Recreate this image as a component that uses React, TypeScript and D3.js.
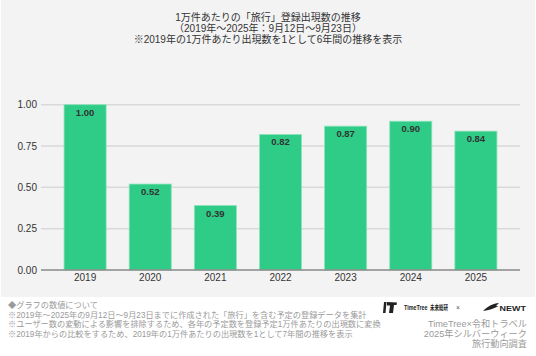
import React from "react";
import * as d3 from "d3";

const years = ["2019", "2020", "2021", "2022", "2023", "2024", "2025"];
const values = [1.0, 0.52, 0.39, 0.82, 0.87, 0.9, 0.84];
const yTicks = [0, 0.25, 0.5, 0.75, 1.0];
const titleLines = [
  "1万件あたりの「旅行」登録出現数の推移",
  "（2019年〜2025年：9月12日〜9月23日）",
  "※2019年の1万件あたり出現数を1として6年間の推移を表示",
];
const notes = [
  "◆グラフの数値について",
  "※2019年〜2025年の9月12日〜9月23日までに作成された「旅行」を含む予定の登録データを集計",
  "※ユーザー数の変動による影響を排除するため、各年の予定数を登録予定1万件あたりの出現数に変換",
  "※2019年からの比較をするため、2019年の1万件あたりの出現数を1として7年間の推移を表示",
];
const credits = ["TimeTree×令和トラベル", "2025年シルバーウィーク", "旅行動向調査"];

const W = 536;
const H = 356;
const FONT = "'Liberation Sans', 'Noto Sans CJK JP', Arial, sans-serif";

export default function App() {
  const x = d3.scaleBand<string>().domain(years).range([41, 520]).paddingInner(0.354).paddingOuter(0.354);
  const y = d3.scaleLinear().domain([0, 1]).range([270, 104.7]);
  const fmt = d3.format(".2f");

  return (
    <svg
      width={W}
      height={H}
      style={{ position: "absolute", left: 0, top: 0, background: "#ffffff" }}
      fontFamily={FONT}
    >
      <rect x={1} y={0} width={534} height={297} fill="#f3f3f3" />
      {titleLines.map((t, i) => (
        <text key={i} x={268} y={21 + i * 10.8} textAnchor="middle" fontSize={10} fill="#333">
          {t}
        </text>
      ))}
      {yTicks.map((t) => (
        <g key={t}>
          {t > 0 && (
            <line x1={41} x2={520} y1={y(t)} y2={y(t)} stroke="#d9d9d9" strokeWidth={1.5} />
          )}
          <text x={37} y={y(t) + 3.5} textAnchor="end" fontSize={10} fill="#333">
            {fmt(t)}
          </text>
        </g>
      ))}
      {years.map((yr, i) => (
        <g key={yr}>
          <rect
            x={x(yr)!}
            y={y(values[i])}
            width={x.bandwidth()}
            height={y(0) - y(values[i])}
            fill="#2ecc87"
            stroke="#8de3ba"
            strokeWidth={0.8}
          />
          <text
            x={x(yr)! + x.bandwidth() / 2}
            y={y(values[i]) + 11}
            textAnchor="middle"
            fontSize={9.5}
            fontWeight="bold"
            fill="#333"
          >
            {fmt(values[i])}
          </text>
          <text x={x(yr)! + x.bandwidth() / 2} y={281} textAnchor="middle" fontSize={10} fill="#333">
            {yr}
          </text>
        </g>
      ))}
      <line x1={41} x2={520} y1={y(0)} y2={y(0)} stroke="#888" strokeWidth={1.5} />
      {notes.map((t, i) => (
        <text key={i} x={8} y={308 + i * 9.7} fontSize={8.2} fill="#9a9a9a">
          {t}
        </text>
      ))}
      {/* logos */}
      <g>
        <path d="M387,302 L397,302.5 L396.5,305 L394,305 L393,313 L389,313 L390,305.5 L387,305.5 Z" fill="#222" />
        <path d="M384,302 L386.5,302 L385.5,313 L383,313 Z" fill="#222" />
        <g transform="translate(404,310) scale(0.72,1)">
          <text x={0} y={0} fontSize={7.5} fontWeight="bold" fill="#222">TimeTree</text>
        </g>
        <g transform="translate(430,310) scale(0.64,1)">
          <text x={0} y={0} fontSize={7} fontWeight="bold" fill="#222">未来総研</text>
        </g>
        <text x={458} y={310} fontSize={7} textAnchor="middle" fill="#555">×</text>
        <path d="M483,311 C488,306 493,303.5 499,303 L496,306 L498.5,306 C494,308.5 489,310.5 483,311 Z" fill="#222" />
        <g transform="translate(499.5,310.5) scale(1.12,1)">
          <text x={0} y={0} fontSize={8} fontWeight="bold" fill="#222">NEWT</text>
        </g>
      </g>
      {credits.map((t, i) => (
        <text key={i} x={527} y={327 + i * 10.2} textAnchor="end" fontSize={9.2} fill="#9a9a9a">
          {t}
        </text>
      ))}
    </svg>
  );
}
